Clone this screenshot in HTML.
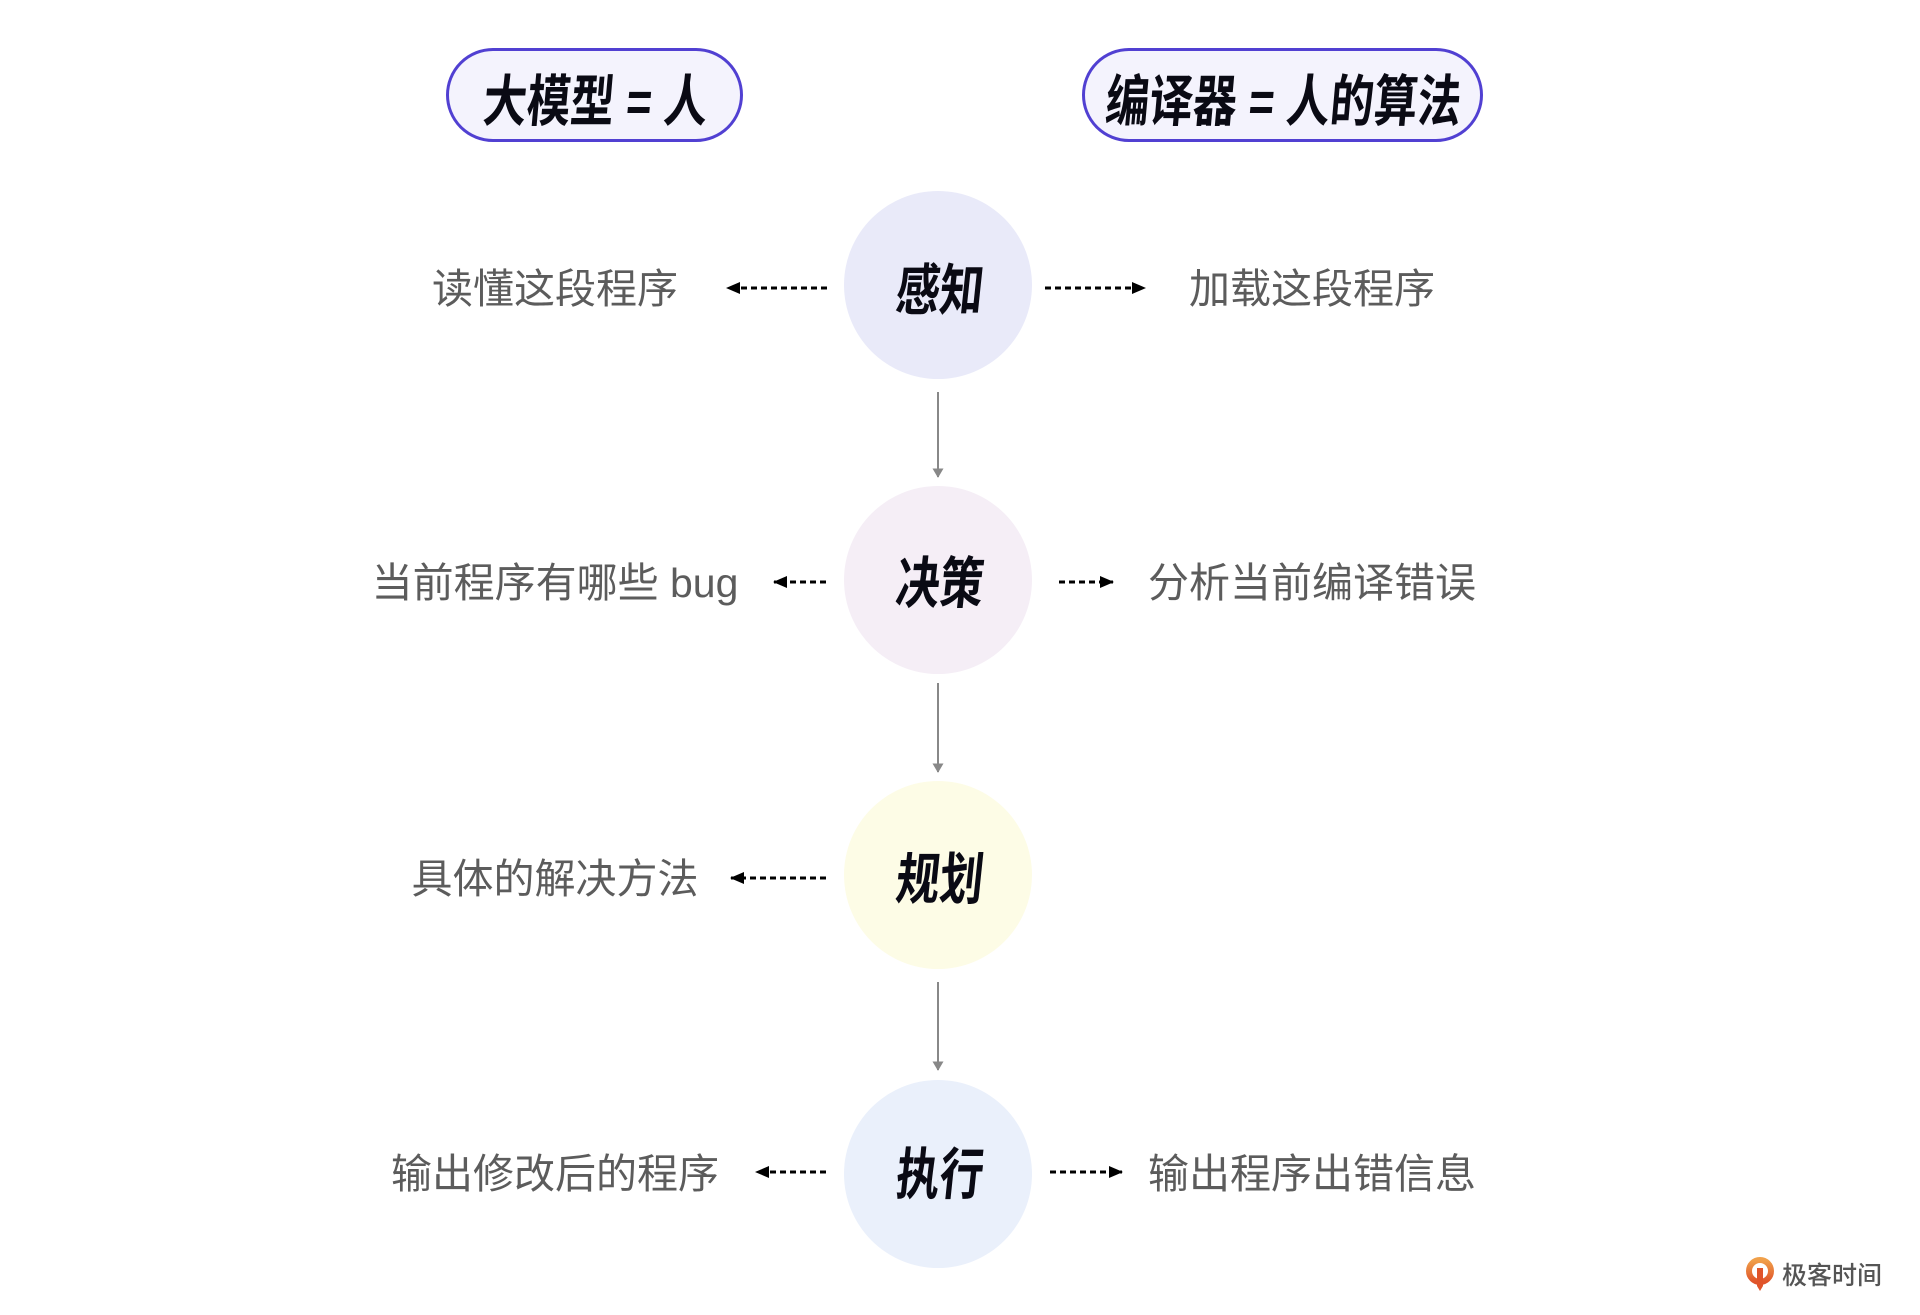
<!DOCTYPE html>
<html><head><meta charset="utf-8"><style>
html,body{margin:0;padding:0;background:#fff;}
svg{display:block;}
.t{font-family:"Liberation Sans","Noto Sans CJK SC",sans-serif;font-weight:700;fill:#0a0a14;}
.s{font-family:"Liberation Sans","Noto Sans CJK SC",sans-serif;font-size:41px;fill:#5c5c5c;}
</style></head><body>
<svg width="1920" height="1315" viewBox="0 0 1920 1315" xmlns="http://www.w3.org/2000/svg">
<defs>
<marker id="bh" viewBox="0 0 14 12" refX="13" refY="6" markerWidth="14" markerHeight="12" markerUnits="userSpaceOnUse" orient="auto"><path d="M0,0 L14,6 L0,12 Z" fill="#000"/></marker>
<marker id="gh" viewBox="0 0 11 13" refX="10" refY="6.5" markerWidth="13" markerHeight="11" markerUnits="userSpaceOnUse" orient="auto"><path d="M0,0 L11,6.5 L0,13 Z" fill="#888"/></marker>
<linearGradient id="og" x1="0" y1="0" x2="0" y2="1"><stop offset="0" stop-color="#f0a04a"/><stop offset="1" stop-color="#e0542a"/></linearGradient>
</defs>

<!-- pills -->
<rect x="447.5" y="49.5" width="294" height="91" rx="45.5" fill="#f4f3fd" stroke="#5140d2" stroke-width="3"/>
<rect x="1083.5" y="49.5" width="398" height="91" rx="45.5" fill="#f4f3fd" stroke="#5140d2" stroke-width="3"/>
<text class="t" font-size="56" text-anchor="middle" transform="translate(594,121) skewX(-5) scale(0.78,1)">大模型 = 人</text>
<text class="t" font-size="56" text-anchor="middle" transform="translate(1282,121) skewX(-5) scale(0.78,1)">编译器 = 人的算法</text>

<!-- circles -->
<circle cx="938" cy="285" r="94" fill="#e9eaf9"/>
<circle cx="938" cy="580" r="94" fill="#f5eef6"/>
<circle cx="938" cy="875" r="94" fill="#fdfce6"/>
<circle cx="938" cy="1174" r="94" fill="#eaf0fb"/>

<text class="t" font-size="56" text-anchor="middle" transform="translate(938,310) skewX(-6) scale(0.78,1)">感知</text>
<text class="t" font-size="56" text-anchor="middle" transform="translate(938,603) skewX(-6) scale(0.78,1)">决策</text>
<text class="t" font-size="56" text-anchor="middle" transform="translate(938,899) skewX(-6) scale(0.78,1)">规划</text>
<text class="t" font-size="56" text-anchor="middle" transform="translate(938,1194) skewX(-6) scale(0.78,1)">执行</text>

<!-- vertical arrows -->
<line x1="938" y1="392" x2="938" y2="477" stroke="#888" stroke-width="2" marker-end="url(#gh)"/>
<line x1="938" y1="683" x2="938" y2="772" stroke="#888" stroke-width="2" marker-end="url(#gh)"/>
<line x1="938" y1="982" x2="938" y2="1070" stroke="#888" stroke-width="2" marker-end="url(#gh)"/>

<!-- dashed arrows -->
<g stroke="#000" stroke-width="3" stroke-dasharray="6 4" fill="none">
<line x1="827" y1="288" x2="727" y2="288" marker-end="url(#bh)"/>
<line x1="1045" y1="288" x2="1145" y2="288" marker-end="url(#bh)"/>
<line x1="826" y1="582" x2="774" y2="582" marker-end="url(#bh)"/>
<line x1="1059" y1="582" x2="1113" y2="582" marker-end="url(#bh)"/>
<line x1="826" y1="878" x2="731" y2="878" marker-end="url(#bh)"/>
<line x1="826" y1="1172" x2="756" y2="1172" marker-end="url(#bh)"/>
<line x1="1050" y1="1172" x2="1122" y2="1172" marker-end="url(#bh)"/>
</g>

<!-- side labels -->
<text class="s" x="555" y="303" text-anchor="middle">读懂这段程序</text>
<text class="s" x="1312" y="303" text-anchor="middle">加载这段程序</text>
<text class="s" x="555" y="597" text-anchor="middle">当前程序有哪些 bug</text>
<text class="s" x="1312" y="597" text-anchor="middle">分析当前编译错误</text>
<text class="s" x="555" y="893" text-anchor="middle">具体的解决方法</text>
<text class="s" x="555" y="1188" text-anchor="middle">输出修改后的程序</text>
<text class="s" x="1312" y="1188" text-anchor="middle">输出程序出错信息</text>

<!-- logo -->
<g>
<circle cx="1760" cy="1271" r="11" fill="none" stroke="url(#og)" stroke-width="6"/>
<path d="M1757,1268 L1763,1268 L1763,1286 L1760,1291 L1757,1286 Z" fill="#e0542a"/>
<text x="1782" y="1284" font-family="'Liberation Sans','Noto Sans CJK SC',sans-serif" font-size="25" font-weight="500" fill="#555">极客时间</text>
</g>
</svg>
</body></html>
